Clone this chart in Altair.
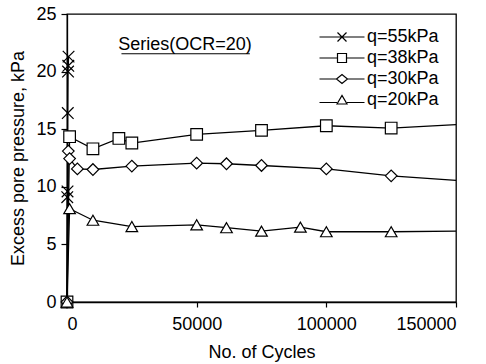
import altair as alt
import pandas as pd

FONT = "Liberation Sans"

series_names = ["q=55kPa", "q=38kPa", "q=30kPa", "q=20kPa"]

q55_cycles = [0, 100, 200, 300, 400, 500, 600]
q55_pressure = [0.0, 9.1, 9.6, 16.4, 20.0, 20.5, 21.3]

q38_cycles = [0, 1000, 10000, 20000, 25000, 50000, 75000, 100000, 125000]
q38_pressure = [0.0, 14.35, 13.3, 14.2, 13.8, 14.55, 14.9, 15.3, 15.1]

q30_cycles = [0, 500, 1000, 4000, 10000, 25000, 50000, 61500, 75000, 100000, 125000]
q30_pressure = [0.0, 13.1, 12.45, 11.55, 11.5, 11.8, 12.05, 12.0, 11.85, 11.55, 10.95]

q20_cycles = [0, 1000, 10000, 25000, 50000, 61500, 75000, 90000, 100000, 125000]
q20_pressure = [0.0, 8.1, 7.1, 6.55, 6.7, 6.45, 6.15, 6.5, 6.1, 6.1]

# lines continue to the right frame edge
line_end_cycles = 150000
line_end_pressure = {"q=38kPa": 15.4, "q=30kPa": 10.55, "q=20kPa": 6.15}

x_ticks = [0, 50000, 100000, 150000]
y_ticks = [0, 5, 10, 15, 20, 25]

note_text = "Series(OCR=20)"
note_cycles = 45500
note_pressure = 22.3
underline_from = 21000
underline_to = 70500
underline_pressure = 21.55

marker_shapes = [
    "M-1,-1L1,1M-1,1L1,-1",
    "square",
    "diamond",
    "triangle-up",
]
legend_paths = [
    "M-4.5,0H4.5M-0.9,-0.9L0.9,0.9M-0.9,0.9L0.9,-0.9",
    "M-4.5,0H-0.9M0.9,0H4.5M-0.9,-0.9H0.9V0.9H-0.9Z",
    "M-4.5,0H-1.1M1.1,0H4.5M-1.1,0L0,-0.9L1.1,0L0,0.9Z",
    "M-4.5,0.5H-1M1,0.5H4.5M-1,0.8L0,-0.9L1,0.8Z",
]

rows = []
for name, xs, ys in [
    ("q=55kPa", q55_cycles, q55_pressure),
    ("q=38kPa", q38_cycles, q38_pressure),
    ("q=30kPa", q30_cycles, q30_pressure),
    ("q=20kPa", q20_cycles, q20_pressure),
]:
    for x, y in zip(xs, ys):
        rows.append({"series": name, "cycles": x, "pressure": y, "marker": True})
    if name in line_end_pressure:
        rows.append({"series": name, "cycles": line_end_cycles,
                     "pressure": line_end_pressure[name], "marker": False})
df = pd.DataFrame(rows)

x_scale = alt.Scale(domain=[0, 150000], nice=False)
y_scale = alt.Scale(domain=[0, 25], nice=False)

x_axis = alt.Axis(values=x_ticks, format="d", title="No. of Cycles", grid=False,
                  tickSize=5, labelPadding=8, titlePadding=10, titleColor="black")
y_axis = alt.Axis(values=y_ticks, format="d", title="Excess pore pressure, kPa", grid=False,
                  tickSize=6, labelPadding=5, titlePadding=8, titleColor="black")

X = alt.X("cycles:Q", scale=x_scale, axis=x_axis, title="No. of Cycles")
Y = alt.Y("pressure:Q", scale=y_scale, axis=y_axis, title="Excess pore pressure, kPa")

base = alt.Chart(df)

lines = base.mark_line(color="black", strokeWidth=1.3).encode(
    x=X, y=Y, detail="series:N", order="cycles:Q"
)

points = base.transform_filter("datum.marker").mark_point(
    filled=True, fill="white", stroke="black", strokeWidth=1.2, opacity=1, size=135
).encode(
    x=X, y=Y,
    shape=alt.Shape("series:N", scale=alt.Scale(domain=series_names, range=marker_shapes), legend=None),
)

legend_layer = base.transform_filter("datum.cycles < 0").mark_point(
    filled=False, color="black", strokeWidth=1.2, opacity=1
).encode(
    x=X, y=Y,
    shape=alt.Shape(
        "series:N",
        scale=alt.Scale(domain=series_names, range=legend_paths),
        legend=alt.Legend(
            title=None, orient="none", legendX=266, legendY=14, padding=0,
            symbolSize=100, symbolStrokeColor="black",
            symbolStrokeWidth=1.2, symbolOpacity=1,
            labelFont=FONT, labelFontSize=18, labelColor="black",
            labelOffset=16, rowPadding=3,
        ),
    ),
)

note_df = pd.DataFrame({"cycles": [note_cycles], "pressure": [note_pressure], "text": [note_text]})
note = alt.Chart(note_df).mark_text(font=FONT, fontSize=18, color="black").encode(
    x=X, y=Y, text="text:N"
)
ul_df = pd.DataFrame({"cycles": [underline_from], "cycles_end": [underline_to],
                      "pressure": [underline_pressure]})
underline = alt.Chart(ul_df).mark_rule(color="black", strokeWidth=1.2).encode(
    x=X, x2="cycles_end:Q", y=Y
)

chart = alt.layer(lines, points, legend_layer, note, underline).resolve_scale(
    shape="independent"
).properties(
    width=389, height=288,
    padding={"left": 67, "top": 14, "right": 30, "bottom": 62},
    autosize=alt.AutoSizeParams(type="none"),
    background="white",
).configure_view(
    stroke="black", strokeWidth=1.3
).configure_axis(
    labelFont=FONT, titleFont=FONT, labelFontSize=18, titleFontSize=18,
    titleFontWeight="normal", labelColor="black", titleColor="black",
    domainColor="black", tickColor="black", domainWidth=1.3, tickWidth=1.2,
)

chart.save("out.html", embed_options={"renderer": "svg", "actions": False})
